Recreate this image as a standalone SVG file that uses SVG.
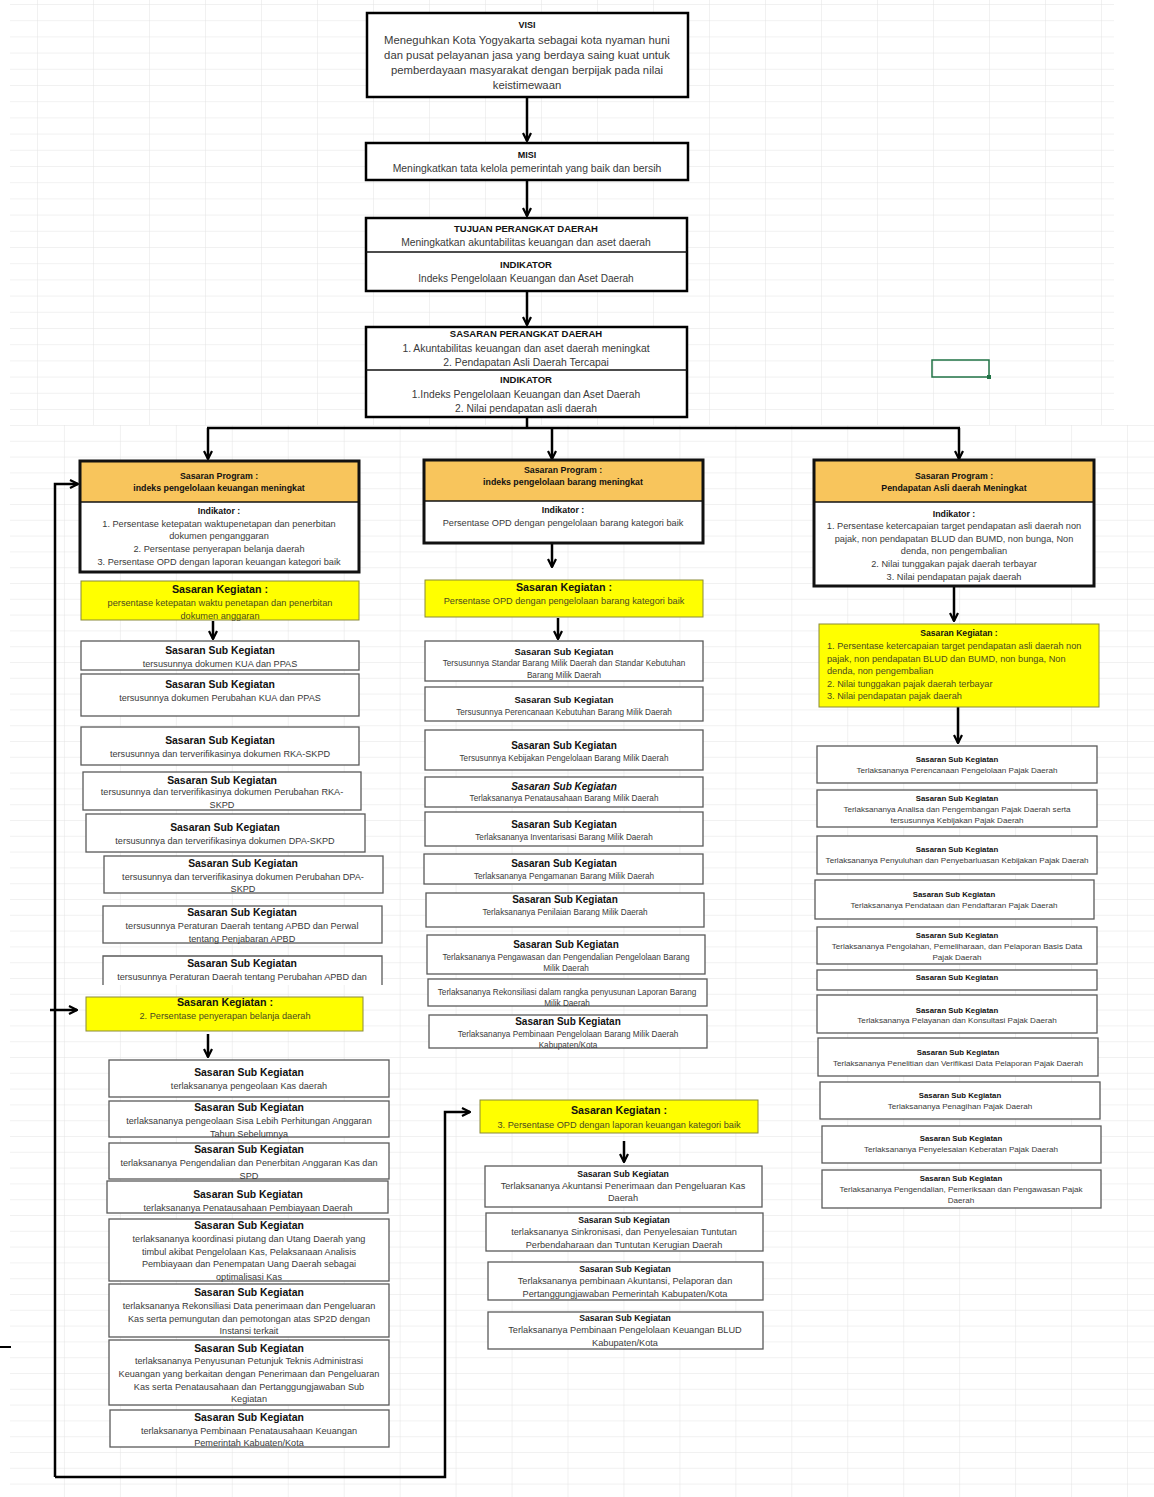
<svg xmlns="http://www.w3.org/2000/svg" width="1154" height="1497" viewBox="0 0 1154 1497">
<defs>
<pattern id="gTop" patternUnits="userSpaceOnUse" x="37" y="4" width="56" height="16.2"><path d="M0,0V16.2M0,0H56" fill="none" stroke="#e3e3e3" stroke-width="1"/></pattern>
<pattern id="gBot" patternUnits="userSpaceOnUse" x="8" y="425" width="55.95" height="15.8"><path d="M0,0V15.8M0,0H55.95" fill="none" stroke="#e3e3e3" stroke-width="1"/></pattern>
<marker id="ar" viewBox="0 0 10 10" refX="9" refY="5" markerWidth="10" markerHeight="10" markerUnits="userSpaceOnUse" orient="auto"><path d="M1,1L9,5L1,9" fill="none" stroke="#000" stroke-width="2.2"/></marker>
</defs>
<style>
.bx{fill:#fff;stroke:#000;stroke-width:2.5}
.pf{fill:#F8C55C}
.pw{fill:#fff}
.po{fill:none;stroke:#111;stroke-width:3}
.dv{stroke:#111;stroke-width:1.5}
.sb{fill:#fff;stroke:#5a5a5a;stroke-width:1.3}
.yl{fill:#FFFF00;stroke:#8a8a3a;stroke-width:1}
text{font-family:"Liberation Sans",Arial,sans-serif;text-anchor:middle}
.h{font-weight:bold;fill:#111}
.d{fill:#3a3a3a}
.y{fill:#4a4a20}
.l{text-anchor:start}
.cn{fill:none;stroke:#000;stroke-width:2.5}
.ls{font-size:9.15px}
.ms{font-size:8.2px}
.rs{font-size:8.1px}
.lt{font-size:10.4px}
.ph{font-size:8.8px}
.pi{font-size:9.2px}
</style>
<rect width="1154" height="1497" fill="#fff"/>
<rect x="10" y="0" width="1104" height="425" fill="url(#gTop)"/>
<rect x="10" y="425" width="1144" height="1072" fill="url(#gBot)"/>
<g id="cellsel"><rect x="932" y="360" width="57" height="17" fill="none" stroke="#217346" stroke-width="1.5"/><rect x="987" y="375" width="4" height="4" fill="#217346"/></g>

<g id="connectors">
<line class="cn" x1="527" y1="97" x2="527" y2="141" marker-end="url(#ar)"/>
<line class="cn" x1="527" y1="180" x2="527" y2="216" marker-end="url(#ar)"/>
<line class="cn" x1="527" y1="291" x2="527" y2="325" marker-end="url(#ar)"/>
<path class="cn" d="M527,417V428M207,428H960"/>
<line class="cn" x1="208" y1="428" x2="208" y2="459" marker-end="url(#ar)"/>
<line class="cn" x1="552" y1="428" x2="552" y2="459" marker-end="url(#ar)"/>
<line class="cn" x1="959" y1="428" x2="959" y2="459" marker-end="url(#ar)"/>
<line class="cn" x1="213" y1="621" x2="213" y2="639" marker-end="url(#ar)"/>
<line class="cn" x1="208" y1="1034" x2="208" y2="1057" marker-end="url(#ar)"/>
<line class="cn" x1="552" y1="543" x2="552" y2="567" marker-end="url(#ar)"/>
<line class="cn" x1="558" y1="618" x2="558" y2="639" marker-end="url(#ar)"/>
<line class="cn" x1="624" y1="1141" x2="624" y2="1162" marker-end="url(#ar)"/>
<line class="cn" x1="954" y1="586" x2="954" y2="621" marker-end="url(#ar)"/>
<line class="cn" x1="958" y1="707" x2="958" y2="743" marker-end="url(#ar)"/>
<path class="cn" d="M55,1477V484H78" marker-end="url(#ar)"/>
<line class="cn" x1="50" y1="1010" x2="77" y2="1010" marker-end="url(#ar)"/>
<path class="cn" d="M55,1477H445V1112H470" marker-end="url(#ar)"/>
<line x1="0" y1="1347" x2="11" y2="1347" stroke="#000" stroke-width="2"/>
</g>

<g id="visi"><rect class="bx" x="367" y="13" width="321" height="84"/>
<text class="h" x="527" y="28" font-size="9">VISI</text>
<text class="d" x="527" y="44" font-size="11.3">Meneguhkan Kota Yogyakarta sebagai kota nyaman huni</text>
<text class="d" x="527" y="59" font-size="11.3">dan pusat pelayanan jasa yang berdaya saing kuat untuk</text>
<text class="d" x="527" y="74" font-size="11.3">pemberdayaan masyarakat dengan berpijak pada nilai</text>
<text class="d" x="527" y="89" font-size="11.3">keistimewaan</text></g>

<g id="misi"><rect class="bx" x="366" y="143" width="322" height="37"/>
<text class="h" x="527" y="158" font-size="9">MISI</text>
<text class="d" x="527" y="172" font-size="10.4">Meningkatkan tata kelola pemerintah yang baik dan bersih</text></g>

<g id="tujuan"><rect class="bx" x="366" y="218" width="321" height="73"/><line class="dv" x1="366" y1="252" x2="687" y2="252"/>
<text class="h" x="526" y="232" font-size="9.5">TUJUAN PERANGKAT DAERAH</text>
<text class="d" x="526" y="246" font-size="10.3">Meningkatkan akuntabilitas keuangan dan aset daerah</text>
<text class="h" x="526" y="268" font-size="9.5">INDIKATOR</text>
<text class="d" x="526" y="282" font-size="10.1">Indeks Pengelolaan Keuangan dan Aset Daerah</text></g>

<g id="sasaran-pd"><rect class="bx" x="366" y="327" width="321" height="90"/><line class="dv" x1="366" y1="370" x2="687" y2="370"/>
<text class="h" x="526" y="337" font-size="9.5">SASARAN PERANGKAT DAERAH</text>
<text class="d" x="526" y="352" font-size="10.4">1. Akuntabilitas keuangan dan aset daerah meningkat</text>
<text class="d" x="526" y="366" font-size="10.4">2. Pendapatan Asli Daerah Tercapai</text>
<text class="h" x="526" y="383" font-size="9.5">INDIKATOR</text>
<text class="d" x="526" y="398" font-size="10.3">1.Indeks Pengelolaan Keuangan dan Aset Daerah</text>
<text class="d" x="526" y="412" font-size="10.3">2. Nilai pendapatan asli daerah</text></g>

<!-- LEFT COLUMN -->
<g id="prog-keuangan"><rect class="pf" x="80" y="461" width="279" height="41"/><rect class="pw" x="80" y="502" width="279" height="70"/><line class="dv" x1="80" y1="502" x2="359" y2="502"/><rect class="po" x="80" y="461" width="279" height="111"/>
<text class="h ph" x="219" y="479">Sasaran Program :</text>
<text class="h ph" x="219" y="491">indeks pengelolaan keuangan meningkat</text>
<text class="h" x="219" y="514" font-size="8.8">Indikator :</text>
<text class="d pi" x="219" y="527">1. Persentase ketepatan waktupenetapan dan penerbitan</text>
<text class="d pi" x="219" y="539">dokumen penganggaran</text>
<text class="d pi" x="219" y="552">2. Persentase penyerapan belanja daerah</text>
<text class="d pi" x="219" y="565">3. Persentase OPD dengan laporan keuangan kategori baik</text></g>

<g id="keg-1"><rect class="yl" x="81" y="581" width="278" height="39"/>
<text class="h" x="220" y="593" font-size="10.7">Sasaran Kegiatan :</text>
<text class="y pi" x="220" y="606">persentase ketepatan waktu penetapan dan penerbitan</text>
<text class="y pi" x="220" y="619">dokumen anggaran</text></g>

<g id="L1"><rect class="sb" x="81" y="641" width="278" height="29"/><text class="h lt" x="220" y="654">Sasaran Sub Kegiatan</text><text class="d ls" x="220" y="667">tersusunnya dokumen KUA dan PPAS</text></g>
<g id="L2"><rect class="sb" x="81" y="674" width="278" height="42"/><text class="h lt" x="220" y="688">Sasaran Sub Kegiatan</text><text class="d ls" x="220" y="701">tersusunnya dokumen Perubahan KUA dan PPAS</text></g>
<g id="L3"><rect class="sb" x="81" y="727" width="278" height="38"/><text class="h lt" x="220" y="744">Sasaran Sub Kegiatan</text><text class="d ls" x="220" y="757">tersusunnya dan terverifikasinya dokumen RKA-SKPD</text></g>
<g id="L4"><rect class="sb" x="83" y="772" width="278" height="38"/><text class="h lt" x="222" y="784">Sasaran Sub Kegiatan</text><text class="d ls" x="222" y="795">tersusunnya dan terverifikasinya dokumen Perubahan RKA-</text><text class="d ls" x="222" y="808">SKPD</text></g>
<g id="L5"><rect class="sb" x="86" y="814" width="279" height="38"/><text class="h lt" x="225" y="831">Sasaran Sub Kegiatan</text><text class="d ls" x="225" y="844">tersusunnya dan terverifikasinya dokumen DPA-SKPD</text></g>
<g id="L6"><rect class="sb" x="104" y="856" width="279" height="37"/><text class="h lt" x="243" y="867">Sasaran Sub Kegiatan</text><text class="d ls" x="243" y="880">tersusunnya dan terverifikasinya dokumen Perubahan DPA-</text><text class="d ls" x="243" y="892">SKPD</text></g>
<g id="L7"><rect class="sb" x="103" y="906" width="279" height="37"/><text class="h lt" x="242" y="916">Sasaran Sub Kegiatan</text><text class="d ls" x="242" y="929">tersusunnya Peraturan Daerah tentang APBD dan Perwal</text><text class="d ls" x="242" y="942">tentang Penjabaran APBD</text></g>
<g id="L8"><rect x="103" y="956" width="279" height="29" fill="#fff"/><path d="M103,985V956H382V985" fill="none" stroke="#5a5a5a" stroke-width="1.3"/><text class="h lt" x="242" y="967">Sasaran Sub Kegiatan</text><text class="d ls" x="242" y="980">tersusunnya Peraturan Daerah tentang Perubahan APBD dan</text></g>

<g id="keg-2"><rect class="yl" x="86" y="997" width="277" height="34"/>
<text class="h" x="225" y="1006" font-size="10.7">Sasaran Kegiatan :</text>
<text class="y pi" x="225" y="1019">2. Persentase penyerapan belanja daerah</text></g>

<g id="L10"><rect class="sb" x="109" y="1060" width="280" height="37"/><text class="h lt" x="249" y="1076">Sasaran Sub Kegiatan</text><text class="d ls" x="249" y="1089">terlaksananya pengeolaan Kas daerah</text></g>
<g id="L11"><rect class="sb" x="109" y="1101" width="280" height="36"/><text class="h lt" x="249" y="1111">Sasaran Sub Kegiatan</text><text class="d ls" x="249" y="1124">terlaksananya pengeolaan Sisa Lebih Perhitungan Anggaran</text><text class="d ls" x="249" y="1137">Tahun Sebelumnya</text></g>
<g id="L12"><rect class="sb" x="109" y="1143" width="280" height="36"/><text class="h lt" x="249" y="1153">Sasaran Sub Kegiatan</text><text class="d ls" x="249" y="1166">terlaksananya Pengendalian dan Penerbitan Anggaran Kas dan</text><text class="d ls" x="249" y="1179">SPD</text></g>
<g id="L13"><rect class="sb" x="107" y="1181" width="281" height="32"/><text class="h lt" x="248" y="1198">Sasaran Sub Kegiatan</text><text class="d ls" x="248" y="1211">terlaksananya Penatausahaan Pembiayaan Daerah</text></g>
<g id="L14"><rect class="sb" x="109" y="1219" width="280" height="62"/><text class="h lt" x="249" y="1229">Sasaran Sub Kegiatan</text><text class="d ls" x="249" y="1242">terlaksananya koordinasi piutang dan Utang Daerah yang</text><text class="d ls" x="249" y="1255">timbul akibat Pengelolaan Kas, Pelaksanaan Analisis</text><text class="d ls" x="249" y="1267">Pembiayaan dan Penempatan Uang Daerah sebagai</text><text class="d ls" x="249" y="1280">optimalisasi Kas</text></g>
<g id="L15"><rect class="sb" x="109" y="1284" width="280" height="53"/><text class="h lt" x="249" y="1296">Sasaran Sub Kegiatan</text><text class="d ls" x="249" y="1309">terlaksananya Rekonsiliasi Data penerimaan dan Pengeluaran</text><text class="d ls" x="249" y="1322">Kas serta pemungutan dan pemotongan atas SP2D dengan</text><text class="d ls" x="249" y="1334">Instansi terkait</text></g>
<g id="L16"><rect class="sb" x="109" y="1340" width="280" height="65"/><text class="h lt" x="249" y="1352">Sasaran Sub Kegiatan</text><text class="d ls" x="249" y="1364">terlaksananya Penyusunan Petunjuk Teknis Administrasi</text><text class="d ls" x="249" y="1377">Keuangan yang berkaitan dengan Penerimaan dan Pengeluaran</text><text class="d ls" x="249" y="1390">Kas serta Penatausahaan dan Pertanggungjawaban Sub</text><text class="d ls" x="249" y="1402">Kegiatan</text></g>
<g id="L17"><rect class="sb" x="110" y="1410" width="279" height="37"/><text class="h lt" x="249" y="1421">Sasaran Sub Kegiatan</text><text class="d ls" x="249" y="1434">terlaksananya Pembinaan Penatausahaan Keuangan</text><text class="d ls" x="249" y="1446">Pemerintah Kabuaten/Kota</text></g>

<!-- MIDDLE COLUMN -->
<g id="prog-barang"><rect class="pf" x="424" y="460" width="279" height="41"/><rect class="pw" x="424" y="501" width="279" height="42"/><line class="dv" x1="424" y1="501" x2="703" y2="501"/><rect class="po" x="424" y="460" width="279" height="83"/>
<text class="h ph" x="563" y="473">Sasaran Program :</text>
<text class="h ph" x="563" y="485">indeks pengelolaan barang meningkat</text>
<text class="h" x="563" y="513" font-size="8.8">Indikator :</text>
<text class="d pi" x="563" y="526">Persentase OPD dengan pengelolaan barang  kategori baik</text></g>

<g id="keg-barang"><rect class="yl" x="425" y="580" width="278" height="37"/>
<text class="h" x="564" y="591" font-size="10.7">Sasaran Kegiatan :</text>
<text class="y pi" x="564" y="604">Persentase OPD dengan pengelolaan barang  kategori baik</text></g>

<g id="M1"><rect class="sb" x="425" y="641" width="278" height="40"/><text class="h" x="564" y="655" font-size="9.4">Sasaran Sub Kegiatan</text><text class="d ms" x="564" y="666">Tersusunnya Standar Barang Milik Daerah dan Standar Kebutuhan</text><text class="d ms" x="564" y="678">Barang Milik Daerah</text></g>
<g id="M2"><rect class="sb" x="425" y="687" width="278" height="34"/><text class="h" x="564" y="703" font-size="9.4">Sasaran Sub Kegiatan</text><text class="d ms" x="564" y="715">Tersusunnya Perencanaan Kebutuhan Barang Milik Daerah</text></g>
<g id="M3"><rect class="sb" x="425" y="730" width="278" height="40"/><text class="h" x="564" y="749" font-size="10">Sasaran Sub Kegiatan</text><text class="d ms" x="564" y="761">Tersusunnya Kebijakan Pengelolaan Barang Milik Daerah</text></g>
<g id="M4"><rect class="sb" x="425" y="777" width="278" height="30"/><text class="h" x="564" y="790" font-size="10" font-style="italic">Sasaran Sub Kegiatan</text><text class="d ms" x="564" y="801">Terlaksananya Penatausahaan Barang Milik Daerah</text></g>
<g id="M5"><rect class="sb" x="425" y="812" width="278" height="34"/><text class="h" x="564" y="828" font-size="10">Sasaran Sub Kegiatan</text><text class="d ms" x="564" y="840">Terlaksananya Inventarisasi Barang Milik Daerah</text></g>
<g id="M6"><rect class="sb" x="424" y="854" width="279" height="30"/><text class="h" x="564" y="867" font-size="10">Sasaran Sub Kegiatan</text><text class="d ms" x="564" y="879">Terlaksananya Pengamanan Barang Milik Daerah</text></g>
<g id="M7"><rect class="sb" x="426" y="893" width="278" height="34"/><text class="h" x="565" y="903" font-size="10">Sasaran Sub Kegiatan</text><text class="d ms" x="565" y="915">Terlaksananya Penilaian Barang Milik Daerah</text></g>
<g id="M8"><rect class="sb" x="427" y="935" width="278" height="39"/><text class="h" x="566" y="948" font-size="10">Sasaran Sub Kegiatan</text><text class="d ms" x="566" y="960">Terlaksananya Pengawasan dan Pengendalian Pengelolaan  Barang</text><text class="d ms" x="566" y="971">Milik Daerah</text></g>
<g id="M9"><rect class="sb" x="428" y="979" width="279" height="27"/><text class="d ms" x="567" y="995">Terlaksananya Rekonsiliasi dalam rangka penyusunan Laporan Barang</text><text class="d ms" x="567" y="1006">Milik Daerah</text></g>
<g id="M10"><rect class="sb" x="429" y="1015" width="278" height="33"/><text class="h" x="568" y="1025" font-size="10">Sasaran Sub Kegiatan</text><text class="d ms" x="568" y="1037">Terlaksananya Pembinaan Pengelolaan Barang Milik Daerah</text><text class="d ms" x="568" y="1048">Kabupaten/Kota</text></g>

<g id="keg-3"><rect class="yl" x="480" y="1100" width="278" height="33"/>
<text class="h" x="619" y="1114" font-size="10.7">Sasaran Kegiatan :</text>
<text class="y pi" x="619" y="1128">3. Persentase OPD dengan laporan keuangan kategori baik</text></g>

<g id="B1"><rect class="sb" x="485" y="1166" width="277" height="41"/><text class="h" x="623" y="1177" font-size="8.7">Sasaran Sub Kegiatan</text><text class="d pi" x="623" y="1189">Terlaksananya Akuntansi Penerimaan dan Pengeluaran Kas</text><text class="d pi" x="623" y="1201">Daerah</text></g>
<g id="B2"><rect class="sb" x="486" y="1213" width="277" height="38"/><text class="h" x="624" y="1223" font-size="8.7">Sasaran Sub Kegiatan</text><text class="d pi" x="624" y="1235">terlaksananya Sinkronisasi, dan Penyelesaian Tuntutan</text><text class="d pi" x="624" y="1248">Perbendaharaan dan Tuntutan Kerugian Daerah</text></g>
<g id="B3"><rect class="sb" x="488" y="1262" width="275" height="38"/><text class="h" x="625" y="1272" font-size="8.7">Sasaran Sub Kegiatan</text><text class="d pi" x="625" y="1284">Terlaksananya pembinaan Akuntansi, Pelaporan dan</text><text class="d pi" x="625" y="1297">Pertanggungjawaban Pemerintah Kabupaten/Kota</text></g>
<g id="B4"><rect class="sb" x="488" y="1312" width="275" height="37"/><text class="h" x="625" y="1321" font-size="8.7">Sasaran Sub Kegiatan</text><text class="d pi" x="625" y="1333">Terlaksananya Pembinaan Pengelolaan Keuangan BLUD</text><text class="d pi" x="625" y="1346">Kabupaten/Kota</text></g>

<!-- RIGHT COLUMN -->
<g id="prog-pad"><rect class="pf" x="814" y="460" width="280" height="42"/><rect class="pw" x="814" y="502" width="280" height="84"/><line class="dv" x1="814" y1="502" x2="1094" y2="502"/><rect class="po" x="814" y="460" width="280" height="126"/>
<text class="h ph" x="954" y="479">Sasaran Program :</text>
<text class="h ph" x="954" y="491">Pendapatan Asli daerah Meningkat</text>
<text class="h" x="954" y="517" font-size="8.8">Indikator :</text>
<text class="d pi" x="954" y="529">1. Persentase ketercapaian target pendapatan asli daerah non</text>
<text class="d pi" x="954" y="542">pajak, non pendapatan BLUD dan BUMD, non bunga, Non</text>
<text class="d pi" x="954" y="554">denda, non pengembalian</text>
<text class="d pi" x="954" y="567">2. Nilai tunggakan pajak daerah terbayar</text>
<text class="d pi" x="954" y="580">3. Nilai pendapatan pajak daerah</text></g>

<g id="keg-pad"><rect class="yl" x="819" y="624" width="280" height="83"/>
<text class="h" x="959" y="636" font-size="8.6">Sasaran  Kegiatan :</text>
<text class="y l pi" x="827" y="649">1. Persentase ketercapaian target pendapatan asli daerah non</text>
<text class="y l pi" x="827" y="662">pajak, non pendapatan BLUD dan BUMD, non bunga, Non</text>
<text class="y l pi" x="827" y="674">denda, non pengembalian</text>
<text class="y l pi" x="827" y="687">2. Nilai tunggakan pajak daerah terbayar</text>
<text class="y l pi" x="827" y="699">3. Nilai pendapatan pajak daerah</text></g>

<g id="R1"><rect class="sb" x="817" y="746" width="280" height="37"/><text class="h" x="957" y="762" font-size="7.8">Sasaran Sub Kegiatan</text><text class="d rs" x="957" y="773">Terlaksananya Perencanaan Pengelolaan Pajak Daerah</text></g>
<g id="R2"><rect class="sb" x="817" y="790" width="280" height="37"/><text class="h" x="957" y="801" font-size="7.8">Sasaran Sub Kegiatan</text><text class="d rs" x="957" y="812">Terlaksananya Analisa dan Pengembangan Pajak Daerah serta</text><text class="d rs" x="957" y="823">tersusunnya Kebijakan Pajak Daerah</text></g>
<g id="R3"><rect class="sb" x="817" y="836" width="280" height="38"/><text class="h" x="957" y="852" font-size="7.8">Sasaran Sub Kegiatan</text><text class="d rs" x="957" y="863">Terlaksananya Penyuluhan dan Penyebarluasan Kebijakan Pajak Daerah</text></g>
<g id="R4"><rect class="sb" x="815" y="880" width="279" height="39"/><text class="h" x="954" y="897" font-size="7.8">Sasaran Sub Kegiatan</text><text class="d rs" x="954" y="908">Terlaksananya Pendataan dan Pendaftaran Pajak Daerah</text></g>
<g id="R5"><rect class="sb" x="817" y="927" width="280" height="37"/><text class="h" x="957" y="938" font-size="7.8">Sasaran Sub Kegiatan</text><text class="d rs" x="957" y="949">Terlaksananya Pengolahan, Pemeliharaan, dan Pelaporan Basis Data</text><text class="d rs" x="957" y="960">Pajak Daerah</text></g>
<g id="R6"><rect class="sb" x="817" y="970" width="280" height="20"/><text class="h" x="957" y="980" font-size="7.8">Sasaran Sub Kegiatan</text></g>
<g id="R7"><rect class="sb" x="817" y="995" width="280" height="38"/><text class="h" x="957" y="1013" font-size="7.8">Sasaran Sub Kegiatan</text><text class="d rs" x="957" y="1023">Terlaksananya Pelayanan dan Konsultasi Pajak Daerah</text></g>
<g id="R8"><rect class="sb" x="818" y="1038" width="280" height="38"/><text class="h" x="958" y="1055" font-size="7.8">Sasaran Sub Kegiatan</text><text class="d rs" x="958" y="1066">Terlaksananya Penelitian dan Verifikasi Data Pelaporan Pajak Daerah</text></g>
<g id="R9"><rect class="sb" x="820" y="1082" width="280" height="37"/><text class="h" x="960" y="1098" font-size="7.8">Sasaran Sub Kegiatan</text><text class="d rs" x="960" y="1109">Terlaksananya Penagihan  Pajak Daerah</text></g>
<g id="R10"><rect class="sb" x="822" y="1126" width="279" height="37"/><text class="h" x="961" y="1141" font-size="7.8">Sasaran Sub Kegiatan</text><text class="d rs" x="961" y="1152">Terlaksananya Penyelesaian Keberatan Pajak Daerah</text></g>
<g id="R11"><rect class="sb" x="822" y="1170" width="279" height="38"/><text class="h" x="961" y="1181" font-size="7.8">Sasaran Sub Kegiatan</text><text class="d rs" x="961" y="1192">Terlaksananya Pengendalian, Pemeriksaan dan Pengawasan  Pajak</text><text class="d rs" x="961" y="1203">Daerah</text></g>
</svg>
